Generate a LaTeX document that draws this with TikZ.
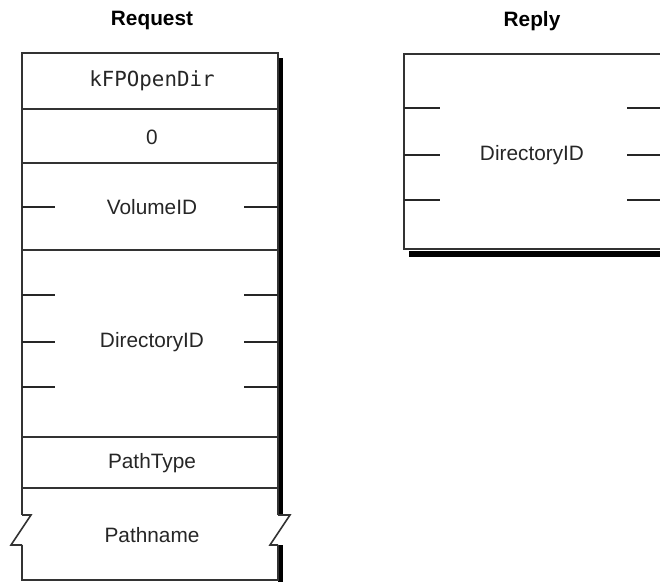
\documentclass[tikz,border=0pt]{standalone}
\usepackage{fontspec}
\setmainfont{Liberation Sans}
\setmonofont{DejaVu Sans Mono}
\begin{document}
\begin{tikzpicture}[x=0.5pt, y=-0.5pt]
    \tikzset{
        field/.style={font=\fontsize{10.4}{12}\selectfont, text=black!85, inner sep=0pt},
        title/.style={font=\fontsize{10.4}{12}\selectfont\bfseries, inner sep=0pt},
        frame/.style={draw=black!80, line width=0.8pt},
        tick/.style={draw=black!85, line width=0.6pt},
        shade/.style={fill=black}
    }
    \useasboundingbox (0,0) rectangle (660,582);

    % 1. Titles
    \node[title] (reqtitle) at (152,21) {Request};
    \node[title] (reptitle) at (532,21) {Reply};

    % 2. Request block
    \coordinate (A)  at (22,53);   % top left
    \coordinate (B)  at (278,53);  % top right
    \coordinate (C)  at (278,580); % bottom right
    \coordinate (D)  at (22,580);  % bottom left

    % shadow on the right, broken at the zigzag
    \fill[shade] (278,58) rectangle (283,515);
    \fill[shade] (278,545) rectangle (283,582);

    % outline with the break marks
    \draw[frame] (22,515) -- (A) -- (B) -- (278,515);
    \draw[frame] (278,545) -- (C) -- (D) -- (22,545);
    \draw[frame] (22,515) -- (31,515) -- (11,545) -- (22,545);
    \draw[frame] (278,515) -- (290,515) -- (270,545) -- (278,545);

    % field separators
    \foreach \y in {109,163,250,437,488}
        \draw[frame] (22,\y) -- (278,\y);

    % byte ticks
    \foreach \y in {207,295,342,387} {
        \draw[tick] (22,\y) -- (55,\y);
        \draw[tick] (244,\y) -- (278,\y);
    }

    % field names
    \node[field, font=\fontsize{10.4}{12}\selectfont\ttfamily] (cmd) at (152,81) {kFPOpenDir};
    \node[field] (pad)   at (152,137) {0};
    \node[field] (vol)   at (152,207) {VolumeID};
    \node[field] (dir)   at (152,342) {DirectoryID};
    \node[field] (ptype) at (152,463) {PathType};
    \node[field] (pname) at (152,535) {Pathname};

    % 3. Reply block
    \coordinate (E) at (404,54);  % top left
    \coordinate (F) at (404,249); % bottom left

    \fill[shade] (409,251) rectangle (660,257);
    \draw[frame] (660,54) -- (E) -- (F) -- (660,249);

    \foreach \y in {108,155,200} {
        \draw[tick] (404,\y) -- (440,\y);
        \draw[tick] (627,\y) -- (660,\y);
    }

    \node[field] (repdir) at (532,155) {DirectoryID};

\end{tikzpicture}
\end{document}
